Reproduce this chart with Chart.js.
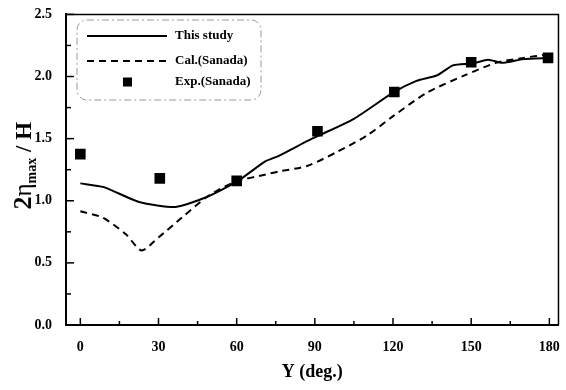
<!DOCTYPE html>
<html>
<head>
<meta charset="utf-8">
<script src="https://cdn.jsdelivr.net/npm/chart.js@4/dist/chart.umd.min.js"></script>
<style>
  html, body { margin: 0; padding: 0; background: #fff; }
  #wrap { width: 566px; height: 390px; }
</style>
</head>
<body>
<div id="wrap"><canvas id="myChart"></canvas></div>
<script>
// data
const studyX = [0, 9, 22.5, 36.5, 48.5, 60.5, 70.8, 76, 87, 91, 105, 120, 129, 137, 143, 150.5, 156.5, 162, 170, 180]
const studyY = [1.14, 1.11, 0.99, 0.95, 1.03, 1.16, 1.315, 1.36, 1.48, 1.52, 1.66, 1.87, 1.965, 2.01, 2.09, 2.105, 2.135, 2.11, 2.14, 2.15]

const calX = [0, 8.5, 17.5, 23.5, 30, 39, 48.5, 55.5, 60.5, 70.8, 76, 87, 98.7, 110, 120.3, 133, 147, 159.5, 170, 180]
const calY = [0.915, 0.865, 0.73, 0.6, 0.705, 0.865, 1.03, 1.115, 1.16, 1.21, 1.235, 1.28, 1.395, 1.525, 1.685, 1.87, 2.005, 2.11, 2.15, 2.18]

const expX = [0, 30.5, 60, 91, 120.5, 150, 179.5]
const expY = [1.375, 1.18, 1.16, 1.56, 1.875, 2.115, 2.15]

const xTicks = [0, 15, 30, 45, 60, 75, 90, 105, 120, 135, 150, 165, 180]
const yTicks = [0, 0.25, 0.5, 0.75, 1, 1.25, 1.5, 1.75, 2, 2.25, 2.5]

const serif = "'Liberation Serif', 'Times New Roman', serif"

const toPoints = (xs, ys) => xs.map((x, i) => ({ x: x, y: ys[i] }))

// inward ticks, box frame, y title with subscript, dashed legend box
const decorPlugin = {
    id: 'decor',
    afterDraw(chart) {
        const ctx = chart.ctx
        const area = chart.chartArea
        const xs = chart.scales.x
        const ys = chart.scales.y
        ctx.save()
        ctx.strokeStyle = '#000'

        // top and right frame
        ctx.lineWidth = 1.5
        ctx.beginPath()
        ctx.moveTo(area.left, area.top)
        ctx.lineTo(area.right, area.top)
        ctx.lineTo(area.right, area.bottom)
        ctx.stroke()

        // ticks pointing into the plot
        ctx.lineWidth = 1.5
        xTicks.forEach(v => {
            const px = xs.getPixelForValue(v)
            const len = v % 30 === 0 ? 7 : 4
            ctx.beginPath()
            ctx.moveTo(px, area.bottom)
            ctx.lineTo(px, area.bottom - len)
            ctx.stroke()
        })
        yTicks.forEach(v => {
            const py = ys.getPixelForValue(v)
            const len = Math.round(v * 2) === v * 2 ? 8 : 5
            ctx.beginPath()
            ctx.moveTo(area.left, py)
            ctx.lineTo(area.left + len, py)
            ctx.stroke()
        })

        // y axis title: 2η_max / H
        ctx.translate(23, (area.top + area.bottom) / 2 - 4)
        ctx.rotate(-Math.PI / 2)
        ctx.fillStyle = '#000'
        ctx.textBaseline = 'alphabetic'
        const parts = [
            { t: '2', f: 'bold 26px ' + serif, dy: 8 },
            { t: 'η', f: '25px ' + serif, dy: 8 },
            { t: 'max', f: 'bold 14px ' + serif, dy: 13 },
            { t: ' / H', f: 'bold 23px ' + serif, dy: 8 }
        ]
        let total = 0
        parts.forEach(p => { ctx.font = p.f; p.w = ctx.measureText(p.t).width; total += p.w })
        let cx = -total / 2
        parts.forEach(p => {
            ctx.font = p.f
            ctx.fillText(p.t, cx, p.dy)
            cx += p.w
        })
        ctx.restore()

        // legend
        ctx.save()
        ctx.strokeStyle = '#999'
        ctx.lineWidth = 1
        ctx.setLineDash([7, 3, 2, 3])
        ctx.beginPath()
        ctx.roundRect(77, 20, 184, 80, 10)
        ctx.stroke()
        ctx.setLineDash([])

        const rows = [36, 61, 82]
        chart.data.datasets.forEach((ds, i) => {
            const y = rows[i]
            ctx.strokeStyle = '#000'
            ctx.fillStyle = '#000'
            if (ds.showLine) {
                ctx.lineWidth = ds.borderWidth
                ctx.setLineDash(ds.borderDash || [])
                ctx.beginPath()
                ctx.moveTo(87, y)
                ctx.lineTo(167, y)
                ctx.stroke()
                ctx.setLineDash([])
            } else {
                ctx.fillRect(123, y - 4.5, 9, 9)
            }
            ctx.font = 'bold 13px ' + serif
            ctx.textBaseline = 'middle'
            ctx.fillText(ds.label, 175, y)
        })
        ctx.restore()
    }
}

const ctx = document.getElementById('myChart').getContext('2d')

const myChart = new Chart(ctx, {
    type: 'scatter',
    data: {
        datasets: [{
            label: 'This study',
            data: toPoints(studyX, studyY),
            showLine: true,
            borderColor: '#000',
            borderWidth: 2,
            pointRadius: 0,
            tension: 0.2
        }, {
            label: 'Cal.(Sanada)',
            data: toPoints(calX, calY),
            showLine: true,
            borderColor: '#000',
            borderWidth: 2,
            borderDash: [7, 5],
            pointRadius: 0,
            tension: 0.25
        }, {
            label: 'Exp.(Sanada)',
            data: toPoints(expX, expY),
            showLine: false,
            pointStyle: 'rect',
            pointRadius: 7.5,
            backgroundColor: '#000',
            borderColor: '#000',
            borderWidth: 0
        }]
    },
    options: {
        responsive: true,
        maintainAspectRatio: false,
        animation: false,
        layout: { padding: { top: 11, right: 3, left: 0, bottom: 0 } },
        plugins: {
            legend: { display: false },
            tooltip: { enabled: false }
        },
        scales: {
            x: {
                type: 'linear',
                min: -5.5,
                max: 183.5,
                afterBuildTicks: (scale) => { scale.ticks = xTicks.map(v => ({ value: v })) },
                afterFit: (scale) => { scale.height = 65 },
                grid: { display: false },
                border: { display: true, color: '#000', width: 2 },
                ticks: {
                    color: '#000',
                    padding: 6,
                    maxRotation: 0,
                    autoSkip: false,
                    font: { family: serif, size: 14, weight: 'bold' },
                    callback: (v) => v % 30 === 0 ? String(v) : ''
                },
                title: {
                    display: true,
                    text: 'Y (deg.)',
                    color: '#000',
                    font: { family: serif, size: 18, weight: 'bold' },
                    padding: { top: 0, bottom: 7 }
                }
            },
            y: {
                min: 0,
                max: 2.5,
                afterBuildTicks: (scale) => { scale.ticks = yTicks.map(v => ({ value: v })) },
                afterFit: (scale) => { scale.width = 66 },
                grid: { display: false },
                border: { display: true, color: '#000', width: 2 },
                ticks: {
                    color: '#000',
                    padding: 6,
                    autoSkip: false,
                    font: { family: serif, size: 14, weight: 'bold' },
                    callback: (v) => Math.round(v * 2) === v * 2 ? v.toFixed(1) : ''
                }
            }
        }
    },
    plugins: [decorPlugin]
})
</script>
</body>
</html>
